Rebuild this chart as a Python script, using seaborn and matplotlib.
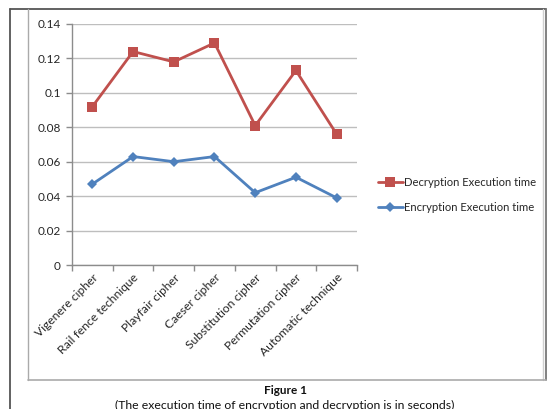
import matplotlib
matplotlib.use("Agg")
import matplotlib.pyplot as plt
from matplotlib.lines import Line2D
import pandas as pd
import seaborn as sns

techniques = ["Vigenere cipher", "Rail fence technique", "Playfair cipher",
              "Caeser cipher", "Substitution cipher", "Permutation cipher",
              "Automatic technique"]
decryption_time = [0.092, 0.124, 0.118, 0.129, 0.081, 0.113, 0.076]
encryption_time = [0.047, 0.063, 0.060, 0.063, 0.042, 0.051, 0.039]
series_names = ["Decryption Execution time", "Encryption Execution time"]
y_ticks = [0, 0.02, 0.04, 0.06, 0.08, 0.1, 0.12, 0.14]
y_tick_labels = ["0", "0.02", "0.04", "0.06", "0.08", "0.1", "0.12", "0.14"]

df = pd.DataFrame({
    "Technique": techniques * 2,
    "Time": decryption_time + encryption_time,
    "Series": [series_names[0]] * len(techniques) + [series_names[1]] * len(techniques),
})
df["pos"] = list(range(len(techniques))) * 2

sns.set_theme(style="white")
plt.rcParams["font.family"] = ["Lato", "DejaVu Sans"]

W, H = 550, 409
fig = plt.figure(figsize=(W / 100, H / 100), dpi=100)
fig.patch.set_facecolor("white")


def fx(px):
    return px / W


def fy(py):
    return 1 - py / H


ax = fig.add_axes([fx(72), fy(265), fx(357) - fx(72), fy(24) - fy(265)])

palette = {series_names[0]: "#C0504D", series_names[1]: "#4F81BD"}
markers = {series_names[0]: "s", series_names[1]: "D"}
sns.lineplot(data=df, x="pos", y="Time", hue="Series", style="Series",
             hue_order=series_names, style_order=series_names,
             palette=palette, markers=markers, dashes=False, linewidth=2.0,
             markersize=6.5, markeredgewidth=0, ax=ax, legend=False)
# shrink the diamond markers slightly
for line in ax.get_lines():
    if line.get_marker() == "D":
        line.set_markersize(5.0)

ax.set_xlim(-0.5, len(techniques) - 0.5)
ax.set_ylim(0, 0.14)
ax.set_yticks(y_ticks)
ax.set_yticklabels(y_tick_labels, fontsize=8.5, color="#262626")
ax.yaxis.grid(True, color="#BEBEBE", linewidth=1.0)
ax.set_axisbelow(True)
ax.set_xlabel("")
ax.set_ylabel("")

ax.set_xticks([i - 0.5 for i in range(len(techniques) + 1)])
ax.set_xticklabels([])
ax.set_xticks(list(range(len(techniques))), minor=True)
ax.set_xticklabels(techniques, minor=True, rotation=45, ha="right",
                   rotation_mode="anchor", fontsize=8.7, color="#262626")
ax.tick_params(axis="x", which="major", direction="out", length=4,
               color="#8C8C8C", width=1, bottom=True)
ax.tick_params(axis="x", which="minor", length=0, pad=5)
ax.tick_params(axis="y", direction="out", length=4, color="#8C8C8C",
               width=1, left=True, pad=4)

for side in ["top", "right"]:
    ax.spines[side].set_visible(False)
for side in ["left", "bottom"]:
    ax.spines[side].set_color("#8C8C8C")
    ax.spines[side].set_linewidth(1.0)

handles = [
    Line2D([], [], color=palette[series_names[0]], marker="s", markersize=6.5,
           linewidth=2.0, markeredgewidth=0),
    Line2D([], [], color=palette[series_names[1]], marker="D", markersize=5.0,
           linewidth=2.0, markeredgewidth=0),
]
fig.legend(handles, series_names, loc="center left",
           bbox_to_anchor=(fx(373), fy(195)), frameon=False, fontsize=8.1,
           handlelength=2.3, handletextpad=0.1, labelspacing=1.25,
           borderaxespad=0)

# chart frame and page rules
frame_lines = [
    ((10, 10), (9, H), "#555555", 1.3),
    ((10, 546), (9, 9), "#555555", 1.3),
    ((546, 546), (9, 380), "#777777", 1.3),
    ((28, 28), (9, 380), "#AAAAAA", 1.0),
    ((543, 543), (9, 380), "#D0D0D0", 1.0),
    ((28, 546), (380, 380), "#AAAAAA", 1.2),
]
for xs, ys, c, lw in frame_lines:
    fig.add_artist(Line2D([fx(x) for x in xs], [fy(y) for y in ys],
                          color=c, linewidth=lw, transform=fig.transFigure))

fig.text(fx(285), fy(391), "Figure 1", ha="center", va="center",
         fontsize=8.5, fontweight="bold", color="#111111")
fig.text(fx(285), fy(405), "(The execution time of encryption and decryption is in seconds)",
         ha="center", va="center", fontsize=8.8, color="#111111")

fig.savefig("out.png", dpi=100, facecolor="white")
